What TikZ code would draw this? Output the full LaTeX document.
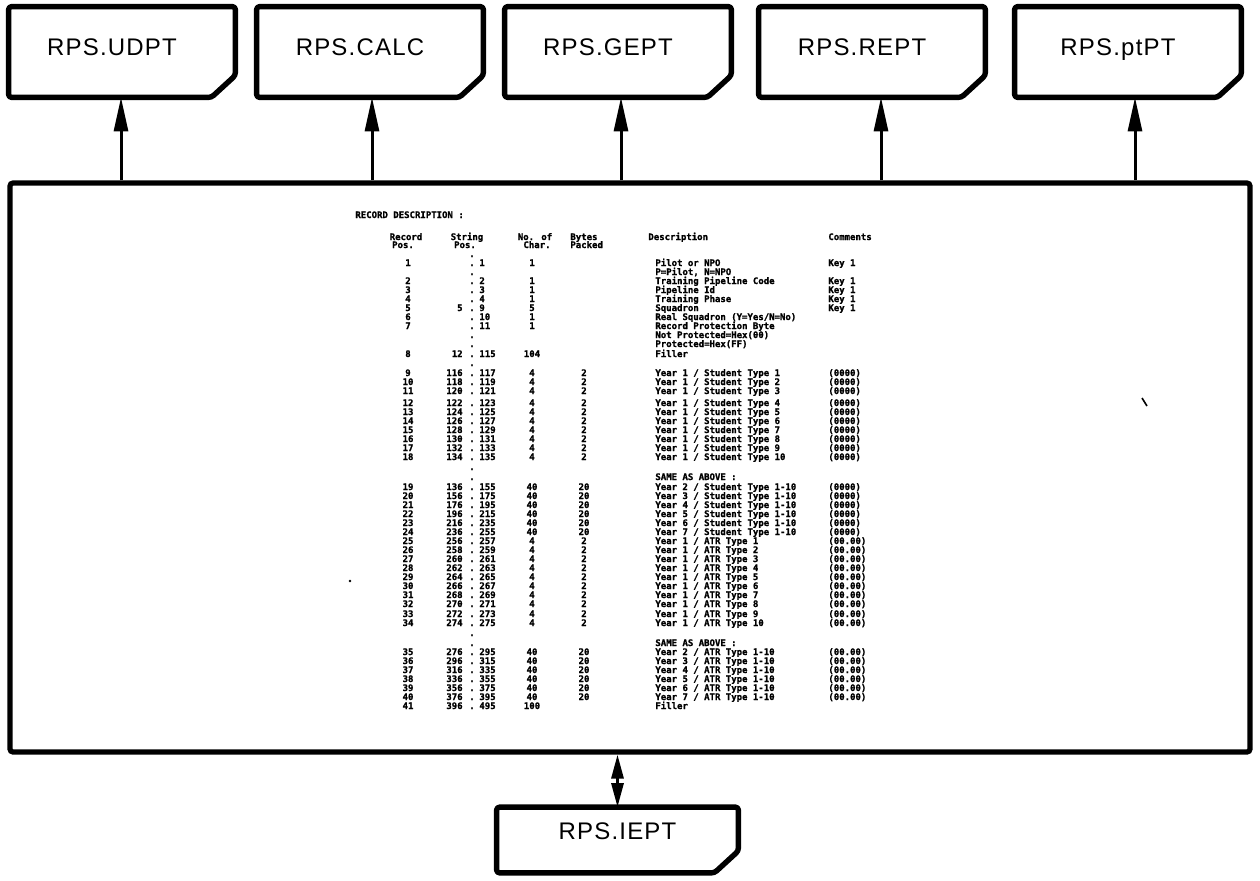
\documentclass[tikz,border=0pt]{standalone}
\usepackage{fontspec}
\setmainfont{Liberation Sans}
\newfontfamily\boxfont[LetterSpace=5]{Liberation Sans}
\newfontfamily\tabfont[BoldFeatures={FakeBold=1.2}]{DejaVu Sans Mono}
\usetikzlibrary{arrows.meta}
\tikzset{
  boxline/.style={line width=2.7pt, rounded corners=1.5pt, line join=round},
  progbox/.style={inner sep=0pt, minimum width=113pt, minimum height=45pt,
    font=\boxfont\fontsize{12}{14}\selectfont, text depth=5pt,
    execute at end node={\hspace*{10pt}}},
  iobox/.style={inner sep=0pt, minimum width=120.5pt, minimum height=32.5pt,
    font=\boxfont\fontsize{12}{14}\selectfont, text depth=9pt},
  mainbox/.style={draw, line width=2.6pt, rounded corners=1.5pt, inner sep=0pt,
    minimum width=620pt, minimum height=284.5pt},
  uparr/.style={line width=1.5pt, -{Triangle[length=17pt,width=7pt]}},
  dblarr/.style={line width=1.5pt, {Triangle[length=12pt,width=6pt]}-{Triangle[length=12pt,width=6pt]}},
  tcell/.style={inner sep=0pt, font=\tabfont\bfseries\fontsize{4.5}{5}\selectfont},
}
\newcommand\progoutline[1]{\draw[boxline] (#1.north west) -- (#1.north east)
  -- ([yshift=11pt]#1.south east) -- ([xshift=-12pt]#1.south east)
  -- (#1.south west) -- cycle;}
\newcommand\trow[8]{%
  \node[tcell,anchor=base] (rc#1) at (408,#1+3) {#2};
  \node[tcell,anchor=base east] (sa#1) at (463,#1+3) {#3};
  \node[tcell,anchor=base] (dt#1) at (472,#1+3) {.};
  \node[tcell,anchor=base west] (sb#1) at (479,#1+3) {#4};
  \node[tcell,anchor=base] (ch#1) at (532,#1+3) {#5};
  \node[tcell,anchor=base] (by#1) at (584,#1+3) {#6};
  \node[tcell,anchor=base west] (ds#1) at (655,#1+3) {#7};
  \node[tcell,anchor=base west] (cm#1) at (828,#1+3) {#8};}
\newcommand\tdot[1]{\node[tcell,anchor=base] (dd#1) at (472,#1+3) {.};}
\newcommand\tdesc[2]{\node[tcell,anchor=base west] (de#1) at (655,#1+3) {#2};}
\begin{document}
\begin{tikzpicture}[x=0.5pt,y=-0.5pt]
\useasboundingbox (0,0) rectangle (1260,880);
\fill[white] (0,0) rectangle (1260,880);
% program boxes
\node[progbox] (udpt) at (122,52) {RPS.UDPT};
\node[progbox] (calc) at (370,52) {RPS.CALC};
\node[progbox] (gept) at (618,52) {RPS.GEPT};
\node[progbox] (rept) at (872,52) {RPS.REPT};
\node[progbox] (ptpt) at (1128,52) {RPS.ptPT};
\foreach \b in {udpt,calc,gept,rept,ptpt} {\progoutline{\b}}
\node[iobox] (iept) at (617.5,840) {RPS.IEPT};
\progoutline{iept}
% main record box
\node[mainbox] (main) at (630,467.5) {};
% arrow entry points
\path (udpt.south) ++(-0.5pt,0) coordinate (in1);
\path (calc.south) ++(1pt,0) coordinate (in2);
\path (gept.south) ++(1.5pt,0) coordinate (in3);
\path (rept.south) ++(4.5pt,0) coordinate (in4);
\path (ptpt.south) ++(3.5pt,0) coordinate (in5);
\foreach \k in {1,...,5} {\draw[uparr] (main.north -| in\k) -- (in\k);}
\draw[dblarr] (main.south -| iept.north) -- (iept.north);
% table
\node[tcell,anchor=base west] (title) at (355,218) {RECORD DESCRIPTION :};
\node[tcell,anchor=base] (h1a) at (406,240) {Record};
\node[tcell,anchor=base] (h1b) at (403,248) {Pos.};
\node[tcell,anchor=base] (h2a) at (467,240) {String};
\node[tcell,anchor=base] (h2b) at (465,248) {Pos.};
\node[tcell,anchor=base] (h3a) at (535,240) {No. of};
\node[tcell,anchor=base] (h3b) at (537,248) {Char.};
\node[tcell,anchor=base west] (h4a) at (570,240) {Bytes};
\node[tcell,anchor=base west] (h4b) at (570,248) {Packed};
\node[tcell,anchor=base west] (h5) at (648,240) {Description};
\node[tcell,anchor=base west] (h6) at (828,240) {Comments};
\tdot{254}
\trow{263}{1}{}{1}{1}{}{Pilot or NPO}{Key 1}
\tdot{272}\tdesc{272}{P=Pilot, N=NPO}
\trow{281}{2}{}{2}{1}{}{Training Pipeline Code}{Key 1}
\trow{290}{3}{}{3}{1}{}{Pipeline Id}{Key 1}
\trow{299}{4}{}{4}{1}{}{Training Phase}{Key 1}
\trow{308}{5}{5}{9}{5}{}{Squadron}{Key 1}
\trow{317}{6}{}{10}{1}{}{Real Squadron (Y=Yes/N=No)}{}
\trow{326}{7}{}{11}{1}{}{Record Protection Byte}{}
\tdot{335}\tdesc{335}{Not Protected=Hex(00)}
\tdot{344}\tdesc{344}{Protected=Hex(FF)}
\trow{354}{8}{12}{115}{104}{}{Filler}{}
\tdot{363}
\trow{373}{9}{116}{117}{4}{2}{Year 1 / Student Type 1}{(0000)}
\trow{382}{10}{118}{119}{4}{2}{Year 1 / Student Type 2}{(0000)}
\trow{391}{11}{120}{121}{4}{2}{Year 1 / Student Type 3}{(0000)}
\trow{403}{12}{122}{123}{4}{2}{Year 1 / Student Type 4}{(0000)}
\trow{412}{13}{124}{125}{4}{2}{Year 1 / Student Type 5}{(0000)}
\trow{421}{14}{126}{127}{4}{2}{Year 1 / Student Type 6}{(0000)}
\trow{430}{15}{128}{129}{4}{2}{Year 1 / Student Type 7}{(0000)}
\trow{439}{16}{130}{131}{4}{2}{Year 1 / Student Type 8}{(0000)}
\trow{448}{17}{132}{133}{4}{2}{Year 1 / Student Type 9}{(0000)}
\trow{457}{18}{134}{135}{4}{2}{Year 1 / Student Type 10}{(0000)}
\tdot{467}
\tdot{477}\tdesc{477}{SAME AS ABOVE :}
\trow{487}{19}{136}{155}{40}{20}{Year 2 / Student Type 1-10}{(0000)}
\trow{496}{20}{156}{175}{40}{20}{Year 3 / Student Type 1-10}{(0000)}
\trow{505}{21}{176}{195}{40}{20}{Year 4 / Student Type 1-10}{(0000)}
\trow{514}{22}{196}{215}{40}{20}{Year 5 / Student Type 1-10}{(0000)}
\trow{523}{23}{216}{235}{40}{20}{Year 6 / Student Type 1-10}{(0000)}
\trow{532}{24}{236}{255}{40}{20}{Year 7 / Student Type 1-10}{(0000)}
\trow{541}{25}{256}{257}{4}{2}{Year 1 / ATR Type 1}{(00.00)}
\trow{550}{26}{258}{259}{4}{2}{Year 1 / ATR Type 2}{(00.00)}
\trow{559}{27}{260}{261}{4}{2}{Year 1 / ATR Type 3}{(00.00)}
\trow{568}{28}{262}{263}{4}{2}{Year 1 / ATR Type 4}{(00.00)}
\trow{577}{29}{264}{265}{4}{2}{Year 1 / ATR Type 5}{(00.00)}
\trow{586}{30}{266}{267}{4}{2}{Year 1 / ATR Type 6}{(00.00)}
\trow{595}{31}{268}{269}{4}{2}{Year 1 / ATR Type 7}{(00.00)}
\trow{604}{32}{270}{271}{4}{2}{Year 1 / ATR Type 8}{(00.00)}
\trow{614}{33}{272}{273}{4}{2}{Year 1 / ATR Type 9}{(00.00)}
\trow{623}{34}{274}{275}{4}{2}{Year 1 / ATR Type 10}{(00.00)}
\tdot{633}
\tdot{643}\tdesc{643}{SAME AS ABOVE :}
\trow{652}{35}{276}{295}{40}{20}{Year 2 / ATR Type 1-10}{(00.00)}
\trow{661}{36}{296}{315}{40}{20}{Year 3 / ATR Type 1-10}{(00.00)}
\trow{670}{37}{316}{335}{40}{20}{Year 4 / ATR Type 1-10}{(00.00)}
\trow{679}{38}{336}{355}{40}{20}{Year 5 / ATR Type 1-10}{(00.00)}
\trow{688}{39}{356}{375}{40}{20}{Year 6 / ATR Type 1-10}{(00.00)}
\trow{697}{40}{376}{395}{40}{20}{Year 7 / ATR Type 1-10}{(00.00)}
\trow{706}{41}{396}{495}{100}{}{Filler}{}
% stray scan marks
\draw[line width=0.8pt] (1142,398) -- (1147,406);
\fill (350,581) circle (0.7pt);
\end{tikzpicture}
\end{document}
